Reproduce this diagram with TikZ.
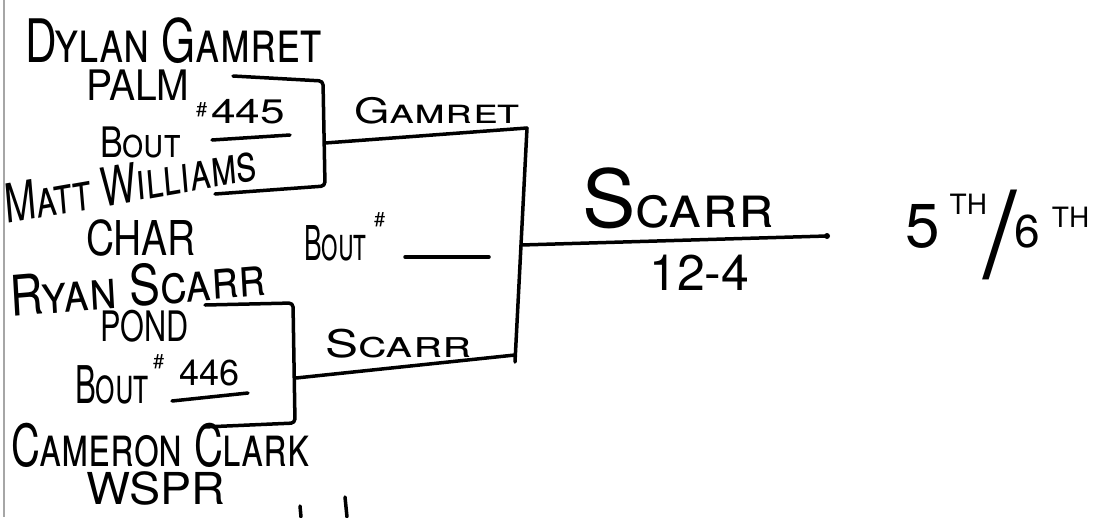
\documentclass[tikz,border=0pt]{standalone}
\usepackage{fontspec}
\setmainfont{TeX Gyre Heros}
\newcommand{\pensize}[1]{\fontsize{#1}{#1}\selectfont}

\begin{document}
\begin{tikzpicture}[
    x=1pt,y=-1pt,
    wrestler/.style={inner sep=0,anchor=base west,font=\scshape},
    club/.style={inner sep=0,anchor=base west},
    pen/.style={line width=3.5pt,line cap=round,line join=round},
    bracket/.style={pen,rounded corners=4pt}
]
\useasboundingbox (0,0) rectangle (1113,517);
\draw[gray!70,line width=1.5pt] (4,0) -- (4,517);
\node[wrestler,xscale=.73] (dylan) at (25,62) {\pensize{60}Dylan Gamret};
\node[club,xscale=.93] (palm) at (86,100) {\pensize{42}PALM};
\node[wrestler,xscale=.81] (bout445) at (100,157) {\pensize{42}Bout};
\node[club] (hash445) at (196,116) {\pensize{20}\#};
\node[club,xscale=1.3] (no445) at (211,123) {\pensize{34}445};
\node[wrestler,xscale=.7,rotate=7] (matt) at (6,224) {\pensize{54}Matt Williams};
\node[club,xscale=.81] (char) at (86,255) {\pensize{48}CHAR};
\node[wrestler,xscale=.55] (boutmid) at (304,260) {\pensize{48}Bout};
\node[club] (hashmid) at (374,226) {\pensize{20}\#};
\node[wrestler,xscale=.82,rotate=4] (ryan) at (11,317) {\pensize{56}Ryan Scarr};
\node[club,xscale=.73] (pond) at (100,341) {\pensize{42}POND};
\node[wrestler,xscale=.6] (bout446) at (75,403) {\pensize{52}Bout};
\node[club] (hash446) at (153,368) {\pensize{20}\#};
\node[club] (no446) at (179,385) {\pensize{36}446};
\node[wrestler,xscale=.69] (cameron) at (11,466) {\pensize{58}Cameron Clark};
\node[club,xscale=1.06] (wspr) at (86,504) {\pensize{44}WSPR};
\node[wrestler,xscale=1.3] (gamret) at (354,123) {\pensize{35}Gamret};
\node[wrestler,xscale=1.3] (scarr) at (325,357) {\pensize{38}Scarr};
\node[wrestler] (champ) at (582,227) {{\pensize{80}S}{\pensize{60}carr}};
\node[club] (score) at (649,290) {\pensize{50}12-4};
\node[club] (place) at (905,247)
    {\pensize{62}5\kern 10pt\raisebox{33pt}{\pensize{28}TH}\kern-4pt\raisebox{-30pt}{\pensize{120}/}%
    \kern-2pt{\pensize{46}6}\kern 12pt\raisebox{20pt}{\pensize{28}TH}};
\coordinate (b1a) at (233,76);
\coordinate (b1b) at (323,81);
\coordinate (b1c) at (325,186);
\coordinate (b1d) at (215,194);
\coordinate (b1m) at (325,143);
\coordinate (topw) at (527,128);
\coordinate (botw) at (515,362);
\coordinate (b2a) at (205,305);
\coordinate (b2b) at (293,303);
\coordinate (b2c) at (295,423);
\coordinate (b2d) at (204,427);
\coordinate (b2m) at (296,378);
\coordinate (semi) at (515,355);
\coordinate (fin) at (521,245);
\coordinate (finend) at (827,236);
\draw[bracket] (b1a) -- (b1b) -- (b1c) -- (b1d);
\draw[bracket] (b2a) -- (b2b) -- (b2c) -- (b2d);
\draw[pen] (b1m) -- (topw);
\draw[pen] (b2m) -- (semi);
\draw[pen] (topw) -- (botw);
\draw[pen] (fin) -- (finend);
\fill (finend) circle (3pt);
\draw[pen] (212,140) -- (290,135);
\draw[pen] (172,401) -- (248,393);
\draw[pen] (405,257) -- (489,257);
\draw[pen] (300,506) -- (301,517);
\draw[pen] (345,497) -- (347,517);
\end{tikzpicture}
\end{document}
